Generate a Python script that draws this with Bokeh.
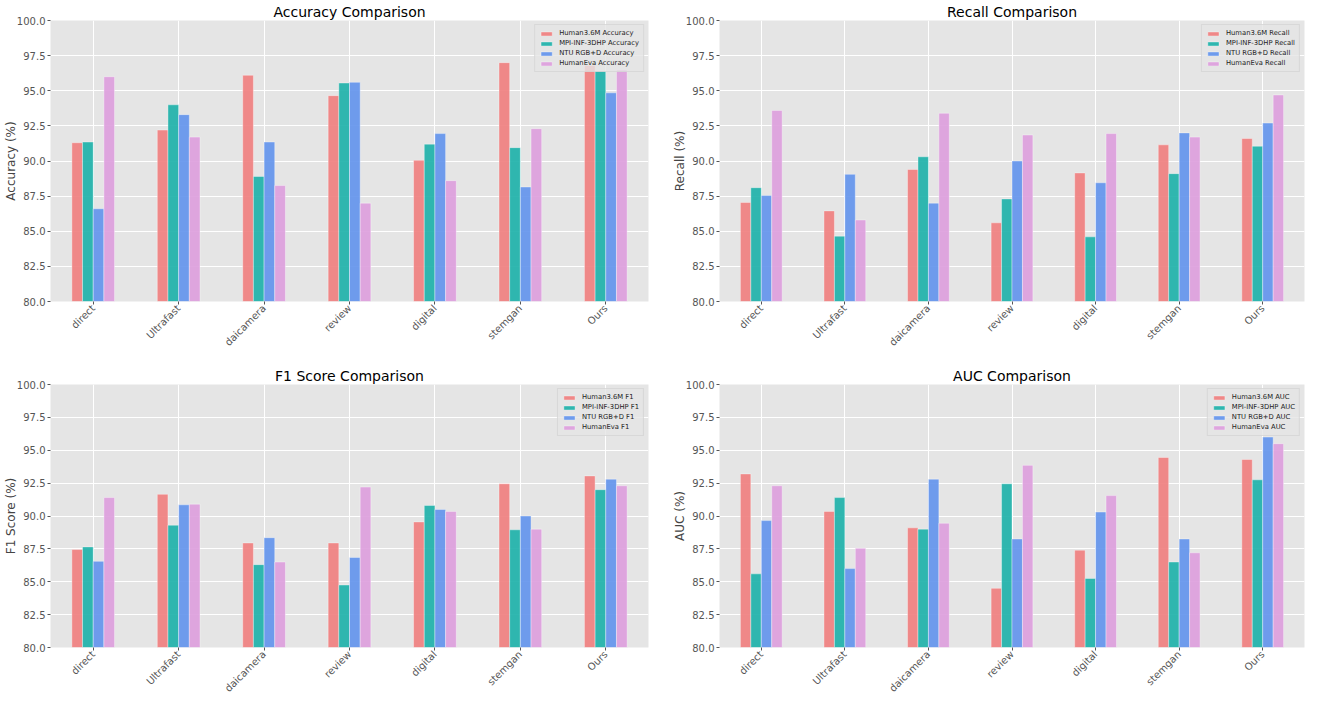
from bokeh.plotting import figure
from bokeh.models import (ColumnDataSource, Range1d, FixedTicker, PrintfTickFormatter,
                          Legend, LegendItem)
from bokeh.transform import dodge
from bokeh.layouts import column, row
from bokeh.embed import file_html
from bokeh.resources import INLINE
import math

methods = ["direct", "Ultrafast", "daicamera", "review", "digital", "stemgan", "Ours"]
datasets = ["Human3.6M", "MPI-INF-3DHP", "NTU RGB+D", "HumanEva"]

acc_h36m = [91.3, 92.2, 96.1, 94.65, 90.05, 97.0, 96.8]
acc_mpi = [91.35, 94.0, 88.9, 95.55, 91.2, 90.95, 96.4]
acc_ntu = [86.6, 93.3, 91.35, 95.6, 91.95, 88.15, 94.85]
acc_heva = [96.0, 91.7, 88.25, 87.0, 88.6, 92.3, 96.5]

rec_h36m = [87.05, 86.45, 89.4, 85.6, 89.15, 91.15, 91.6]
rec_mpi = [88.1, 84.65, 90.3, 87.3, 84.6, 89.1, 91.05]
rec_ntu = [87.55, 89.05, 87.0, 90.0, 88.45, 92.0, 92.7]
rec_heva = [93.6, 85.8, 93.4, 91.85, 91.95, 91.7, 94.7]

f1_h36m = [87.45, 91.65, 87.95, 87.95, 89.55, 92.45, 93.05]
f1_mpi = [87.65, 89.3, 86.3, 84.75, 90.8, 88.95, 92.0]
f1_ntu = [86.55, 90.85, 88.35, 86.85, 90.5, 90.0, 92.8]
f1_heva = [91.4, 90.9, 86.5, 92.2, 90.35, 89.0, 92.3]

auc_h36m = [93.2, 90.35, 89.1, 84.5, 87.4, 94.45, 94.3]
auc_mpi = [85.6, 91.4, 89.0, 92.45, 85.25, 86.5, 92.75]
auc_ntu = [89.65, 86.0, 92.8, 88.25, 90.3, 88.25, 96.0]
auc_heva = [92.3, 87.55, 89.45, 93.85, 91.55, 87.2, 95.5]

y_ticks = [80.0, 82.5, 85.0, 87.5, 90.0, 92.5, 95.0, 97.5, 100.0]

colors = ["#F08080", "#20B2AA", "#6495ED", "#DDA0DD"]
FONT = "DejaVu Sans"
BAR_W = 0.125
offsets = [-1.5 * BAR_W, -0.5 * BAR_W, 0.5 * BAR_W, 1.5 * BAR_W]


def make_panel(title, metric, ylabel, series, width, height, borders):
    bl, br, bt, bb = borders
    p = figure(x_range=methods, y_range=Range1d(80, 100), width=width, height=height,
               output_backend="svg", toolbar_location=None,
               min_border_left=bl, min_border_right=br, min_border_top=bt, min_border_bottom=bb)
    p.title.text = title
    p.title.align = "center"
    p.title.text_font = FONT
    p.title.text_font_size = "14px"
    p.title.text_font_style = "normal"
    p.title.text_color = "#000000"
    p.title.offset = 0
    p.title.standoff = 2

    p.background_fill_color = "#E5E5E5"
    p.border_fill_color = "white"
    p.outline_line_color = None

    data = {"method": methods}
    for i, s in enumerate(series):
        data["s%d" % i] = s
    src = ColumnDataSource(data)

    items = []
    for i in range(4):
        r = p.vbar(x=dodge("method", offsets[i], range=p.x_range), top="s%d" % i, bottom=80,
                   width=BAR_W, source=src, fill_color=colors[i], fill_alpha=0.92,
                   line_color="white", line_alpha=0.6, line_width=0.6)
        items.append(LegendItem(label="%s %s" % (datasets[i], metric), renderers=[r]))

    leg = Legend(items=items, location="top_right")
    leg.label_text_font = FONT
    leg.label_text_font_size = "6.8px"
    leg.label_text_color = "#222222"
    leg.label_height = 6
    leg.label_standoff = 6
    leg.glyph_height = 5
    leg.glyph_width = 14
    leg.spacing = 2
    leg.padding = 4
    leg.margin = 4
    leg.background_fill_color = "#E5E5E5"
    leg.background_fill_alpha = 0.8
    leg.border_line_color = "#CCCCCC"
    leg.border_line_width = 1
    p.add_layout(leg, "center")

    p.yaxis.ticker = FixedTicker(ticks=y_ticks)
    p.yaxis.formatter = PrintfTickFormatter(format="%.1f")
    p.yaxis.axis_label = ylabel
    for ax in (p.xaxis[0], p.yaxis[0]):
        ax.axis_line_color = None
        ax.major_tick_line_color = "#555555"
        ax.major_tick_out = 3
        ax.major_tick_in = 0
        ax.minor_tick_line_color = None
        ax.major_label_text_font = FONT
        ax.major_label_text_font_size = "10px"
        ax.major_label_text_color = "#555555"
        ax.axis_label_text_font = FONT
        ax.axis_label_text_font_size = "12px"
        ax.axis_label_text_font_style = "normal"
        ax.axis_label_text_color = "#444444"
        ax.major_label_standoff = 2
    p.yaxis.axis_label_standoff = -4
    p.xaxis.major_label_orientation = math.pi / 4

    p.xgrid.grid_line_color = "white"
    p.ygrid.grid_line_color = "white"
    p.xgrid.grid_line_width = 1
    p.ygrid.grid_line_width = 1
    p.ygrid.ticker = FixedTicker(ticks=y_ticks)
    return p


p1 = make_panel("Accuracy Comparison", "Accuracy", "Accuracy (%)",
                [acc_h36m, acc_mpi, acc_ntu, acc_heva], 652, 354, (40, 4, 14, 50))
p2 = make_panel("Recall Comparison", "Recall", "Recall (%)",
                [rec_h36m, rec_mpi, rec_ntu, rec_heva], 653, 354, (67, 1, 14, 50))
p3 = make_panel("F1 Score Comparison", "F1", "F1 Score (%)",
                [f1_h36m, f1_mpi, f1_ntu, f1_heva], 652, 346, (40, 4, 30, 45))
p4 = make_panel("AUC Comparison", "AUC", "AUC (%)",
                [auc_h36m, auc_mpi, auc_ntu, auc_heva], 653, 346, (67, 1, 30, 45))

layout = column(row(p1, p2), row(p3, p4))
open("out.html", "w").write(file_html(layout, INLINE))
